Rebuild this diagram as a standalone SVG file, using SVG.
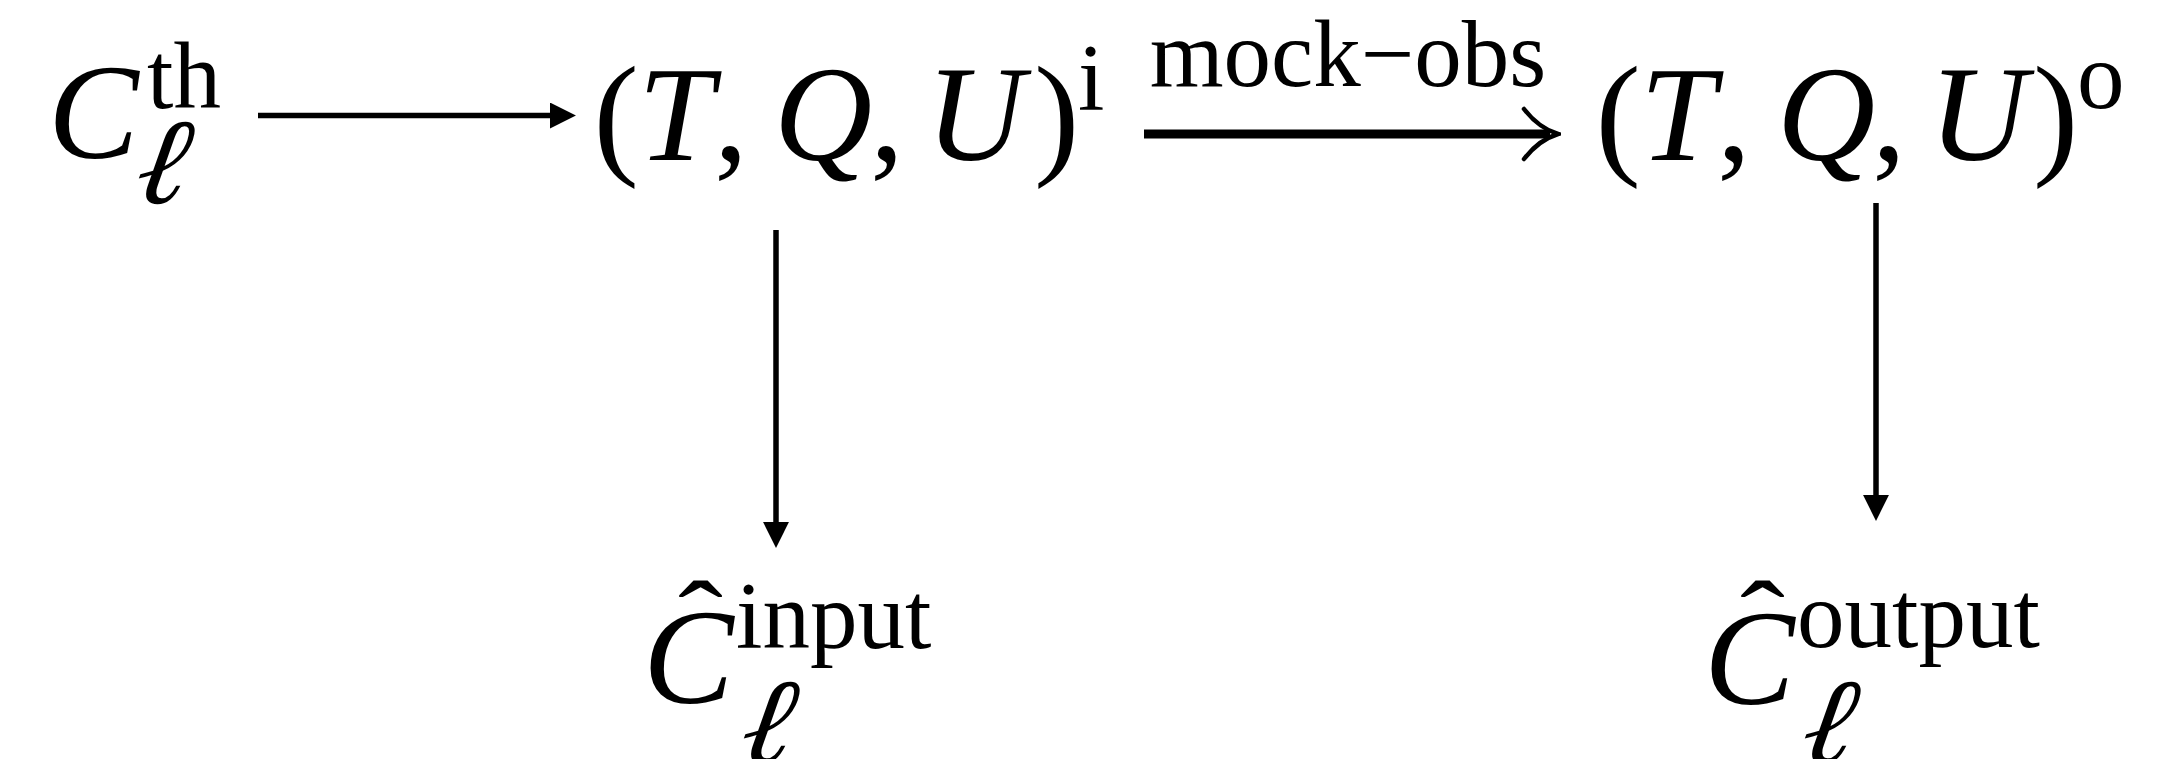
<svg xmlns="http://www.w3.org/2000/svg" width="2182" height="759" viewBox="0 0 2182 759">
<style>
text { font-family: "Liberation Serif", "Times New Roman", serif; fill: #000; }
.m { font-size: 136px; }
.s { font-size: 95px; }
.it { font-style: italic; }
.ell { font-size: 122px; font-style: italic; }
.hat { font-size: 150px; text-anchor: middle; }
.ln { stroke: #000; stroke-width: 5.5; fill: none; }
.lnb { stroke: #000; stroke-width: 9; fill: none; }
</style>
<defs>
<marker id="tri" markerUnits="userSpaceOnUse" markerWidth="26" markerHeight="26" viewBox="0 0 25 25" refX="2" refY="12.5" orient="auto">
<path d="M0,0 L25,12.5 L0,25 z" fill="#000"/>
</marker>
<marker id="barb" markerUnits="userSpaceOnUse" markerWidth="40" markerHeight="56" viewBox="-2 -2 40 56" refX="27" refY="26" orient="auto">
<path d="M1,1 C11,14 22,22 35,26 C22,30 11,38 1,51" stroke="#000" stroke-width="4.5" fill="none" stroke-linecap="round"/>
</marker>
</defs>
<rect width="2182" height="759" fill="#fff"/>
<g id="connectors">
<line class="ln" x1="258" y1="115.5" x2="552" y2="115.5" marker-end="url(#tri)"/>
<line class="lnb" x1="1144" y1="134" x2="1550" y2="134" marker-end="url(#barb)"/>
<line class="ln" x1="776" y1="230" x2="776" y2="524" marker-end="url(#tri)"/>
<line class="ln" x1="1876" y1="203" x2="1876" y2="497" marker-end="url(#tri)"/>
<text class="s" x="1348" y="86" text-anchor="middle">mock−obs</text>
</g>
<g id="node-cth">
<text class="m it" x="48" y="158">C</text>
<text class="s" x="147" y="108">th</text>
<text class="ell" transform="translate(132,203) skewX(-10)">ℓ</text>
</g>
<g id="node-tqu-i">
<text class="m" x="593.5" y="160">(</text>
<text class="m it" x="638" y="160">T</text>
<text class="m" x="714" y="160">,</text>
<text class="m it" x="774" y="160">Q</text>
<text class="m" x="870" y="160">,</text>
<text class="m it" x="926" y="160">U</text>
<text class="m" x="1034" y="160">)</text>
<text class="s" x="1078" y="110">i</text>
</g>
<g id="node-tqu-o">
<text class="m" x="1595.5" y="160">(</text>
<text class="m it" x="1640" y="160">T</text>
<text class="m" x="1717" y="160">,</text>
<text class="m it" x="1777" y="160">Q</text>
<text class="m" x="1872" y="160">,</text>
<text class="m it" x="1929" y="160">U</text>
<text class="m" x="2033" y="160">)</text>
<text class="s" x="2077" y="108">o</text>
</g>
<g id="node-chat-input">
<text class="m it" x="643" y="703">C</text>
<text class="hat" transform="translate(700.5,656.5) scale(0.9,0.73)">ˆ</text>
<text class="s" x="736" y="648">input</text>
<text class="ell" transform="translate(737,763) skewX(-10)">ℓ</text>
</g>
<g id="node-chat-output">
<text class="m it" x="1704" y="704">C</text>
<text class="hat" transform="translate(1762.5,656.5) scale(0.9,0.73)">ˆ</text>
<text class="s" x="1797" y="647">output</text>
<text class="ell" transform="translate(1798,763) skewX(-10)">ℓ</text>
</g>
</svg>
